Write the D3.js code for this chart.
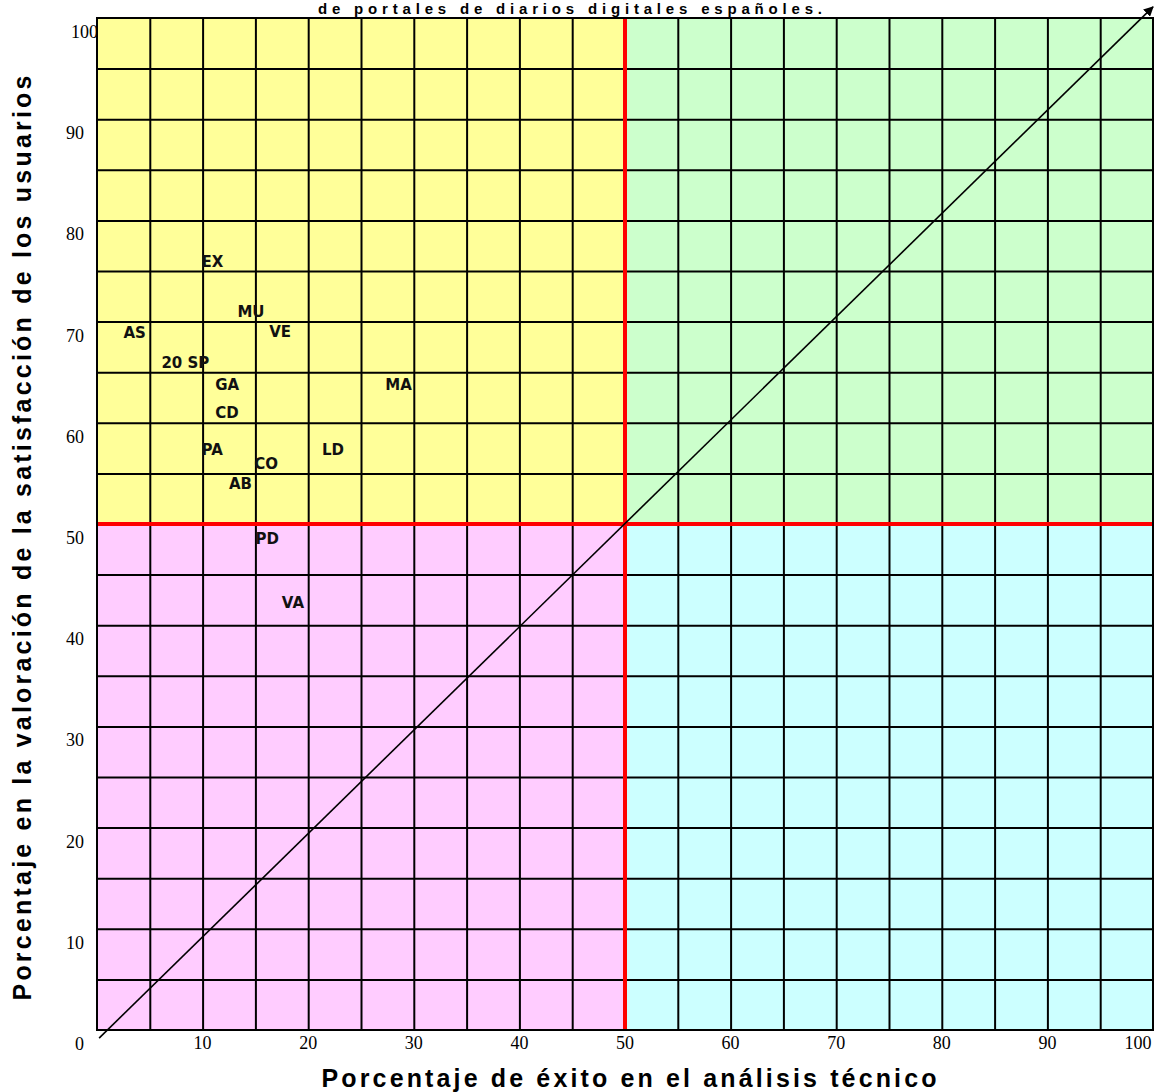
<!DOCTYPE html>
<html>
<head>
<meta charset="utf-8">
<script src="https://cdn.jsdelivr.net/npm/d3@7"></script>
<style>
  body { margin: 0; background: #fff; }
</style>
</head>
<body>
<div id="chart"></div>
<script>
// Diarios digitales: % exito tecnico (x) vs % satisfaccion usuarios (y)
const diarios = ["EX", "MU", "AS", "VE", "20 SP", "GA", "MA", "CD", "PA", "LD", "CO", "AB", "PD", "VA"];
const exitoTecnico = [9.9, 13.3, 2.5, 16.3, 6.1, 11.2, 27.3, 11.2, 9.9, 21.3, 14.9, 12.5, 15.0, 17.5];
const satisfaccion = [75.9, 71.0, 68.9, 69.0, 65.9, 63.8, 63.8, 61.0, 57.4, 57.4, 56.0, 54.0, 48.6, 42.2];

const xTickLabels = [10, 20, 30, 40, 50, 60, 70, 80, 90, 100];
const yTickLabels = [0, 10, 20, 30, 40, 50, 60, 70, 80, 90, 100];
const gridValues = [5, 10, 15, 20, 25, 30, 35, 40, 45, 50, 55, 60, 65, 70, 75, 80, 85, 90, 95];
const umbral = 50;
const diagonal = [[0.2, -0.8], [100, 101.1]];

const quadrants = [
  { x0: 0, x1: 50, y0: 50, y1: 100 },
  { x0: 50, x1: 100, y0: 50, y1: 100 },
  { x0: 0, x1: 50, y0: 0, y1: 50 },
  { x0: 50, x1: 100, y0: 0, y1: 50 }
];
const quadrantColors = ["#ffff99", "#ccffcc", "#ffccff", "#ccffff"];

const width = 1156;
const height = 1092;

const svg = d3
  .select("#chart")
  .append("svg")
  .attr("width", width)
  .attr("height", height);

// Scales
const x = d3.scaleLinear().domain([0, 100]).range([97, 1153]);
const y = d3.scaleLinear().domain([0, 100]).range([1030, 18]);

// Quadrant backgrounds
svg
  .selectAll(".quad")
  .data(quadrants)
  .enter()
  .append("rect")
  .attr("class", "quad")
  .attr("x", (d) => x(d.x0))
  .attr("y", (d) => y(d.y1))
  .attr("width", (d) => x(d.x1) - x(d.x0))
  .attr("height", (d) => y(d.y0) - y(d.y1))
  .attr("fill", (d, i) => quadrantColors[i]);

// Grid lines
svg
  .append("g")
  .attr("transform", `translate(0,${y(0)})`)
  .call(d3.axisBottom(x).tickValues(gridValues).tickSize(-(y(0) - y(100))).tickFormat(""))
  .call((g) => g.select(".domain").remove())
  .selectAll("line")
  .attr("stroke", "#000")
  .attr("stroke-width", 2);

svg
  .append("g")
  .attr("transform", `translate(${x(0)},0)`)
  .call(d3.axisLeft(y).tickValues(gridValues).tickSize(-(x(100) - x(0))).tickFormat(""))
  .call((g) => g.select(".domain").remove())
  .selectAll("line")
  .attr("stroke", "#000")
  .attr("stroke-width", 2);

// Red threshold lines
svg
  .append("line")
  .attr("x1", x(umbral))
  .attr("x2", x(umbral))
  .attr("y1", y(100))
  .attr("y2", y(0))
  .attr("stroke", "#ff0000")
  .attr("stroke-width", 4);

svg
  .append("line")
  .attr("x1", x(0))
  .attr("x2", x(100))
  .attr("y1", y(umbral))
  .attr("y2", y(umbral))
  .attr("stroke", "#ff0000")
  .attr("stroke-width", 4);

// Frame
svg
  .append("rect")
  .attr("x", x(0))
  .attr("y", y(100))
  .attr("width", x(100) - x(0))
  .attr("height", y(0) - y(100))
  .attr("fill", "none")
  .attr("stroke", "#000")
  .attr("stroke-width", 2);

// Tick labels
svg
  .selectAll(".xlab")
  .data(xTickLabels)
  .enter()
  .append("text")
  .attr("class", "xlab")
  .attr("x", (d) => Math.min(x(d), width - 18))
  .attr("y", y(0) + 19)
  .attr("text-anchor", "middle")
  .style("font-family", "'Liberation Serif', 'Times New Roman', serif")
  .style("font-size", "18px")
  .text((d) => d);

svg
  .selectAll(".ylab")
  .data(yTickLabels)
  .enter()
  .append("text")
  .attr("class", "ylab")
  .attr("x", (d) => (d === 100 ? x(0) + 1 : x(0) - 13))
  .attr("y", (d) => y(d) + 20)
  .attr("text-anchor", "end")
  .style("font-family", "'Liberation Serif', 'Times New Roman', serif")
  .style("font-size", "18px")
  .text((d) => d);

// Diagonal with arrow
svg
  .append("defs")
  .append("marker")
  .attr("id", "arrow")
  .attr("viewBox", "0 0 10 10")
  .attr("refX", 9)
  .attr("refY", 5)
  .attr("markerWidth", 10)
  .attr("markerHeight", 10)
  .attr("markerUnits", "userSpaceOnUse")
  .attr("orient", "auto")
  .append("path")
  .attr("d", "M0,0 L10,5 L0,10 z")
  .attr("fill", "#000");

svg
  .append("path")
  .datum(diagonal)
  .attr("d", d3.line().x((d) => x(d[0])).y((d) => y(d[1])))
  .attr("stroke", "#000")
  .attr("stroke-width", 1.6)
  .attr("fill", "none")
  .attr("marker-end", "url(#arrow)");

// Point labels
svg
  .selectAll(".diario")
  .data(diarios)
  .enter()
  .append("text")
  .attr("class", "diario")
  .attr("x", (d, i) => x(exitoTecnico[i]))
  .attr("y", (d, i) => y(satisfaccion[i]))
  .attr("dy", "0.36em")
  .style("font-family", "'DejaVu Sans', Verdana, sans-serif")
  .style("font-weight", "bold")
  .style("font-size", "15px")
  .attr("fill", "#111")
  .text((d) => d);

// Titles
svg
  .append("text")
  .attr("x", 570)
  .attr("y", 14)
  .attr("text-anchor", "middle")
  .attr("textLength", 504)
  .attr("lengthAdjust", "spacing")
  .style("font-family", "'Liberation Sans', Arial, sans-serif")
  .style("font-weight", "bold")
  .style("font-size", "15px")
  .text("de portales de diarios digitales españoles.");

svg
  .append("text")
  .attr("x", 629)
  .attr("y", 1087)
  .attr("text-anchor", "middle")
  .attr("textLength", 615)
  .attr("lengthAdjust", "spacing")
  .style("font-family", "'Liberation Sans', Arial, sans-serif")
  .style("font-weight", "bold")
  .style("font-size", "25px")
  .text("Porcentaje de éxito en el análisis técnico");

svg
  .append("text")
  .attr("transform", "translate(31,538) rotate(-90)")
  .attr("text-anchor", "middle")
  .attr("textLength", 925)
  .attr("lengthAdjust", "spacing")
  .style("font-family", "'Liberation Sans', Arial, sans-serif")
  .style("font-weight", "bold")
  .style("font-size", "25px")
  .text("Porcentaje en la valoración de la satisfacción de los usuarios");
</script>
</body>
</html>
